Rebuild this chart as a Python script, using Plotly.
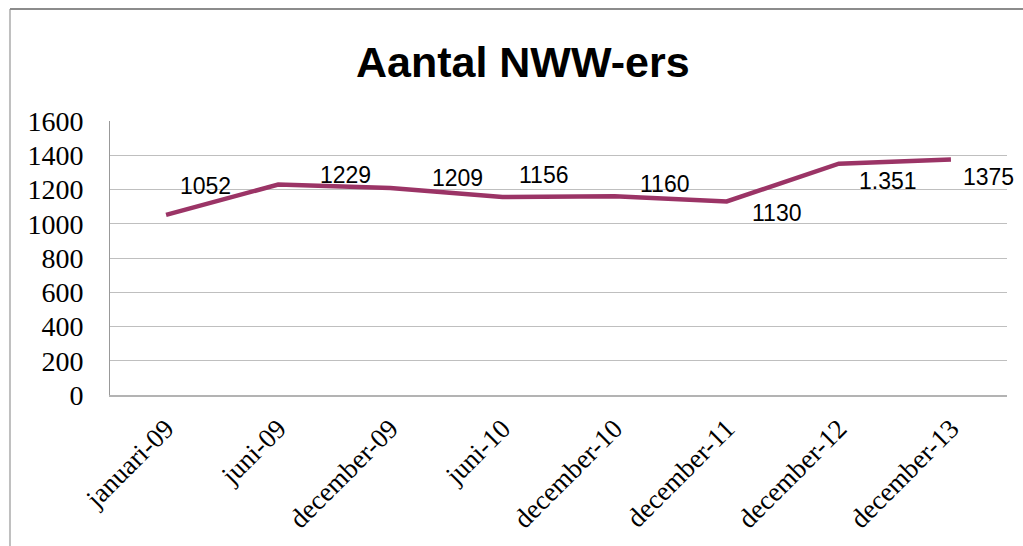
import plotly.graph_objects as go

# data
periods = ["januari-09", "juni-09", "december-09", "juni-10",
           "december-10", "december-11", "december-12", "december-13"]
nww_ers = [1052, 1229, 1209, 1156, 1160, 1130, 1351, 1375]
label_text = ["1052", "1229", "1209", "1156", "1160", "1130", "1.351", "1375"]

y_ticks = [0, 200, 400, 600, 800, 1000, 1200, 1400, 1600]

# label offsets in pixels (dx, dy) to mimic hand placed labels
label_dx = [39, 67, 67, 41, 50, 50, 49, 38]
label_dy = [29, 10, 10, 22, 12, -12, -17, -17]

fig = go.Figure()

fig.add_trace(go.Scatter(
    x=periods,
    y=nww_ers,
    mode="lines",
    line=dict(color="#9B3466", width=4.5),
    hoverinfo="x+y",
    showlegend=False,
))

for p, v, t, dx, dy in zip(periods, nww_ers, label_text, label_dx, label_dy):
    fig.add_annotation(
        x=p, y=v, text=t, showarrow=False,
        xshift=dx, yshift=dy,
        font=dict(family="Liberation Sans", size=23, color="black"),
    )

# outer chart border (left and top only visible)
fig.add_shape(type="line", xref="paper", yref="paper",
              x0=-0.1115, x1=-0.1115, y0=-0.6, y1=1.409,
              line=dict(color="#BFBFBF", width=2))
fig.add_shape(type="line", xref="paper", yref="paper",
              x0=-0.1115, x1=1.03, y0=1.409, y1=1.409,
              line=dict(color="#8C8C8C", width=2))

fig.update_layout(
    width=1023,
    height=546,
    margin=dict(l=110, r=16, t=121, b=151),
    paper_bgcolor="white",
    plot_bgcolor="white",
    title=dict(
        text="<b>Aantal NWW-ers</b>",
        x=0.511, xanchor="center",
        y=0.886, yanchor="middle",
        font=dict(family="Liberation Sans", size=43, color="black"),
    ),
    xaxis=dict(
        type="category",
        range=[-0.5, 7.5],
        tickangle=-45,
        tickfont=dict(family="Liberation Serif", size=27, color="black"),
        ticks="outside", ticklen=5, tickcolor="rgba(0,0,0,0)",
        showgrid=False,
        showline=True, linecolor="#B3B3B3", linewidth=2,
        automargin=False,
        fixedrange=True,
    ),
    yaxis=dict(
        range=[0, 1600],
        tickvals=y_ticks,
        tickfont=dict(family="Liberation Serif", size=28, color="black"),
        ticks="outside", ticklen=20, tickcolor="rgba(0,0,0,0)",
        showgrid=True, gridcolor="#BFBFBF", gridwidth=1,
        showline=True, linecolor="#999999", linewidth=1,
        zeroline=False,
        automargin=False,
        fixedrange=True,
    ),
)

# drop the default 8px page margin so the figure sits at the window's corner
fig.write_html("out.html", config={"displayModeBar": False},
               post_script="document.body.style.margin='0px';")
